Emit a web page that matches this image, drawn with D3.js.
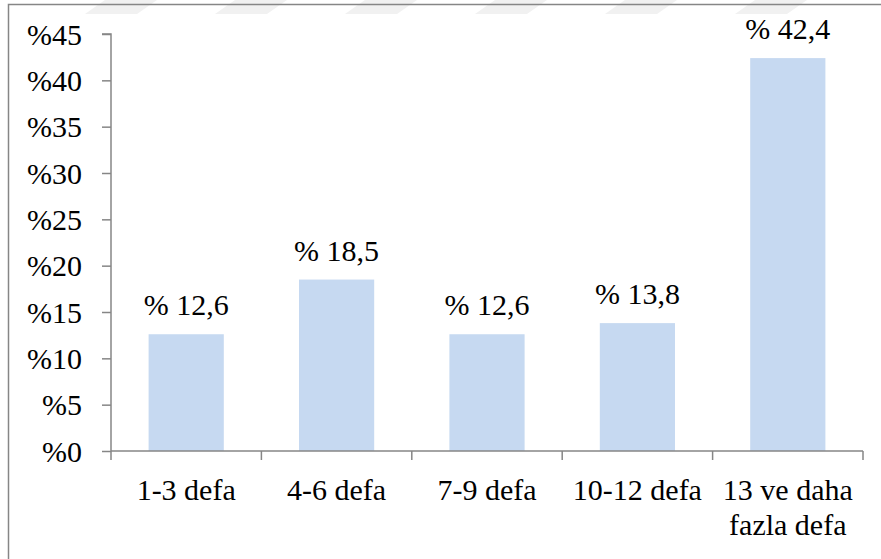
<!DOCTYPE html>
<html>
<head>
<meta charset="utf-8">
<script src="https://cdn.jsdelivr.net/npm/d3@7"></script>
<style>
  html, body { margin: 0; padding: 0; background: #fff; }
  svg { display: block; }
  svg text { font-family: "Liberation Serif", "Times New Roman", Times, "Nimbus Roman", "DejaVu Serif", serif !important; }
</style>
</head>
<body>
<svg id="chart" width="881" height="559"></svg>
<script>
// Visit-frequency categories and their shares (%)
const categories = ["1-3 defa", "4-6 defa", "7-9 defa", "10-12 defa", "13 ve daha fazla defa"];
const shares = [12.6, 18.5, 12.6, 13.8, 42.4];
const yTicks = [0, 5, 10, 15, 20, 25, 30, 35, 40, 45];

// Category labels that wrap onto two lines
const categoryLines = {
  "13 ve daha fazla defa": ["13 ve daha", "fazla defa"]
};

const svg = d3.select("#chart");
const W = 881, H = 559;
const fontSize = 30;
const axisColor = "#868686";

// faint background stripes along the top edge
const stripeX = [85, 215, 345, 475, 605, 735];
svg.selectAll("polygon.stripe")
  .data(stripeX)
  .enter().append("polygon")
  .attr("class", "stripe")
  .attr("points", d => `${d},14 ${d + 20},0 ${d + 72},0 ${d + 52},14`)
  .attr("fill", "#f1f1f1");

// outer frame (runs past the right and bottom edges)
svg.append("rect")
  .attr("x", 8.5).attr("y", 4.5)
  .attr("width", W + 10).attr("height", H + 10)
  .attr("fill", "none")
  .attr("stroke", axisColor)
  .attr("stroke-width", 1.5);

const plot = { left: 111, right: 863, top: 34, bottom: 451 };

const x = d3.scaleBand()
  .domain(categories)
  .range([plot.left, plot.right])
  .paddingInner(0.5)
  .paddingOuter(0.25);

const y = d3.scaleLinear()
  .domain([0, 45])
  .range([plot.bottom, plot.top]);

// bars
svg.selectAll("rect.bar")
  .data(categories)
  .enter().append("rect")
  .attr("class", "bar")
  .attr("x", d => x(d))
  .attr("width", x.bandwidth())
  .attr("y", (d, i) => y(shares[i]))
  .attr("height", (d, i) => y(0) - y(shares[i]))
  .attr("fill", "#c6d9f1");

// value labels above bars
svg.selectAll("text.value")
  .data(categories)
  .enter().append("text")
  .attr("class", "value")
  .attr("x", d => x(d) + x.bandwidth() / 2)
  .attr("y", (d, i) => y(shares[i]) - 19)
  .attr("text-anchor", "middle")
  .attr("font-size", fontSize)
  .attr("fill", "#000")
  .text((d, i) => "% " + String(shares[i]).replace(".", ","));

// y axis
const yAxis = d3.axisLeft(y)
  .tickValues(yTicks)
  .tickSize(9)
  .tickPadding(20)
  .tickFormat(d => "%" + d);

const gy = svg.append("g")
  .attr("transform", `translate(${plot.left},0)`)
  .call(yAxis)
  .attr("font-family", null)
  .attr("font-size", null);
gy.select(".domain").attr("stroke", axisColor).attr("stroke-width", 1.5)
  .attr("d", `M-9,${plot.top}H0V${plot.bottom}`);
gy.selectAll(".tick line").attr("stroke", axisColor).attr("stroke-width", 1.5);
gy.selectAll(".tick text")
  .attr("font-size", fontSize)
  .attr("fill", "#000")
  .attr("dy", "0.34em");

// x axis: baseline with ticks at category boundaries
const gx = svg.append("g");
gx.append("line")
  .attr("x1", plot.left).attr("x2", plot.right)
  .attr("y1", plot.bottom).attr("y2", plot.bottom)
  .attr("stroke", axisColor).attr("stroke-width", 1.5);

const step = x.step();
const boundaries = d3.range(categories.length + 1).map(i => plot.left + i * step);
gx.selectAll("line.xtick")
  .data(boundaries)
  .enter().append("line")
  .attr("class", "xtick")
  .attr("x1", d => d).attr("x2", d => d)
  .attr("y1", plot.bottom).attr("y2", plot.bottom + 9)
  .attr("stroke", axisColor).attr("stroke-width", 1.5);

// category labels
const cat = gx.selectAll("text.cat")
  .data(categories)
  .enter().append("text")
  .attr("class", "cat")
  .attr("x", d => x(d) + x.bandwidth() / 2)
  .attr("y", 500)
  .attr("text-anchor", "middle")
  .attr("font-size", fontSize)
  .attr("fill", "#000");

cat.each(function(d) {
  const lines = categoryLines[d] || [d];
  const t = d3.select(this);
  lines.forEach((ln, i) => {
    t.append("tspan")
      .attr("x", x(d) + x.bandwidth() / 2)
      .attr("dy", i === 0 ? 0 : 35)
      .text(ln);
  });
});
</script>
</body>
</html>
